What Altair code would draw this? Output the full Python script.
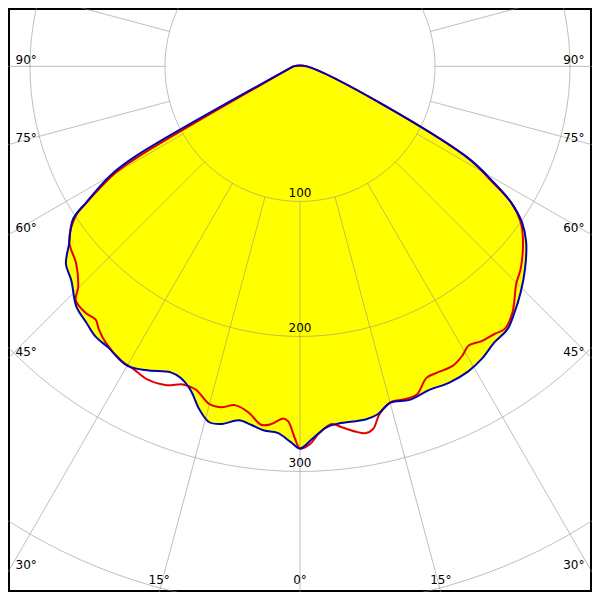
import altair as alt
import pandas as pd

# ---- data (angle in degrees from nadir, left negative; intensity in cd) ----
blue_angle = [-90, -61.3, -60.1, -57.5, -56.0, -52.4, -49.8, -46.9, -43.0, -39.9,
              -37.1, -34.4, -30.0, -26.7, -22.9, -21.0, -18.7, -16.3, -14.3, -12.3,
              -9.8, -7.7, -5.6, -3.5, -1.5, 0, 1.9, 4.2, 6.2, 10.5,
              12.6, 15.1, 18.2, 21.8, 25.2, 28.9, 31.9, 35.2, 38.3, 41.0,
              44.3, 48.1, 52.2, 54.9, 57.2, 59.0, 61.6, 90]
blue_cd = [5, 140, 162, 188, 203, 216, 227, 232, 243, 247,
           251, 252, 256, 252, 246, 247, 253, 265, 272, 271,
           266, 268, 271, 272, 278, 283, 276, 268, 266, 266,
           264, 258, 260, 258, 259, 258, 255, 250, 248, 242,
           234, 224, 212, 201, 186, 168, 139, 5]

red_angle = [-90, -60.8, -60.0, -57.5, -56.4, -52.8, -48.6, -45.1, -43.8, -41.0,
             -38.9, -37.5, -35.2, -31.2, -28.6, -26.0, -22.7, -20.2, -17.9, -15.0,
             -12.9, -10.9, -8.5, -6.2, -4.7, -2.7, -1.9, -0.75, 0, 1.5,
             3.0, 5.1, 6.6, 8.6, 10.1, 11.4, 12.9, 15.1, 17.4, 19.6,
             22.1, 24.0, 27.0, 29.3, 31.1, 33.5, 36.0, 37.9, 40.75, 44.9,
             47.6, 52.3, 54.8, 57.2, 59.0, 61.6, 90]
red_cd = [5, 138, 158, 187, 199, 214.6, 221, 232, 240, 242,
          241, 245, 250, 255, 256, 258, 256, 251, 251.5, 259,
          259, 255.5, 259, 267, 266, 261, 263, 276, 283, 280,
          272, 266, 269, 273.5, 276, 274, 264, 257.6, 258.4, 258,
          249, 248.5, 249, 245.7, 241.6, 244, 245, 246.6, 241, 227,
          221.5, 208.7, 200, 186, 166, 138, 5]

fill_angle = blue_angle
fill_cd = blue_cd

ring_values = [100, 200, 300, 400]
ring_labels = [100, 200, 300]
spoke_angles = list(range(0, 360, 15))
label_angle = [90, 75, 60, 45, 30, 15, 0, 15, 30, 45, 60, 75, 90]
label_side = [-1, -1, -1, -1, -1, -1, 0, 1, 1, 1, 1, 1, 1]

# ---- frame geometry in data units ----
W = 216.3
TOP = 43.26
BOT = 389.3

xs = alt.Scale(domain=[-W, W], nice=False, zero=False)
ys = alt.Scale(domain=[-BOT, TOP], nice=False, zero=False)
X = lambda f: alt.X(f, type="quantitative", scale=xs, axis=None)
Y = lambda f: alt.Y(f, type="quantitative", scale=ys, axis=None)

POLAR = dict(px="datum.cd*sin(datum.angle*PI/180)",
             py="-datum.cd*cos(datum.angle*PI/180)")
INTERP = "catmull-rom"


def curve_df(a, v):
    # closed outline: the first point is repeated at the end (flat top at 90°)
    a = list(a) + [a[0]]
    v = list(v) + [v[0]]
    return pd.DataFrame({"angle": a, "cd": v, "i": list(range(len(a)))})


fill = alt.Chart(curve_df(fill_angle, fill_cd)).mark_line(
    fill="#ffff00", stroke="#ffff00", strokeWidth=0.5, clip=True, interpolate=INTERP
).transform_calculate(**POLAR).encode(x=X("px"), y=Y("py"), order="i:Q")

ring_df = pd.DataFrame([(r, a) for r in ring_values for a in range(0, 362, 2)],
                       columns=["cd", "angle"])
rings = alt.Chart(ring_df).mark_line(
    stroke="#8a8a8a", strokeOpacity=0.55, strokeWidth=1, clip=True
).transform_calculate(**POLAR).encode(
    x=X("px"), y=Y("py"), detail="cd:N", order="angle:Q")

spokes = alt.Chart(pd.DataFrame({"angle": spoke_angles})).mark_rule(
    stroke="#8a8a8a", strokeOpacity=0.55, strokeWidth=1, clip=True
).transform_calculate(
    x1="100*sin(datum.angle*PI/180)", y1="-100*cos(datum.angle*PI/180)",
    x2="800*sin(datum.angle*PI/180)", y2="-800*cos(datum.angle*PI/180)"
).encode(x=X("x1"), y=Y("y1"), x2="x2:Q", y2="y2:Q")

ring_text = alt.Chart(pd.DataFrame({"r": ring_labels})).mark_text(
    font="DejaVu Sans", fontSize=12, color="black", dy=-8, baseline="middle"
).transform_calculate(px="0", py="-datum.r", t="''+datum.r").encode(
    x=X("px"), y=Y("py"), text="t:N")

ang_df = pd.DataFrame({"a": label_angle, "s": label_side})
ang_text = alt.Chart(ang_df).mark_text(
    font="DejaVu Sans", fontSize=12, color="black", baseline="middle"
).transform_calculate(
    px=f"datum.a >= 30 ? datum.s*({W}-13.5) : datum.s*{BOT}*tan(datum.a*PI/180)",
    py=f"datum.a >= 30 ? -{W}/tan(datum.a*PI/180) + 5.1 : -{BOT} + 8.7",
    t="datum.a + '°'"
).encode(x=X("px"), y=Y("py"), text="t:N")

red = alt.Chart(curve_df(red_angle, red_cd)).mark_line(
    color="#e40000", strokeWidth=2, clip=True, interpolate=INTERP
).transform_calculate(**POLAR).encode(x=X("px"), y=Y("py"), order="i:Q")

blue = alt.Chart(curve_df(blue_angle, blue_cd)).mark_line(
    color="#0000b4", strokeWidth=2, clip=True, interpolate=INTERP
).transform_calculate(**POLAR).encode(x=X("px"), y=Y("py"), order="i:Q")

chart = alt.layer(fill, rings, spokes, ring_text, ang_text, red, blue).properties(
    width=584, height=584, autosize="none", padding=0, background="white"
).configure_view(stroke="black", strokeWidth=4)

chart.save("out.html", embed_options={"renderer": "svg", "actions": False})
